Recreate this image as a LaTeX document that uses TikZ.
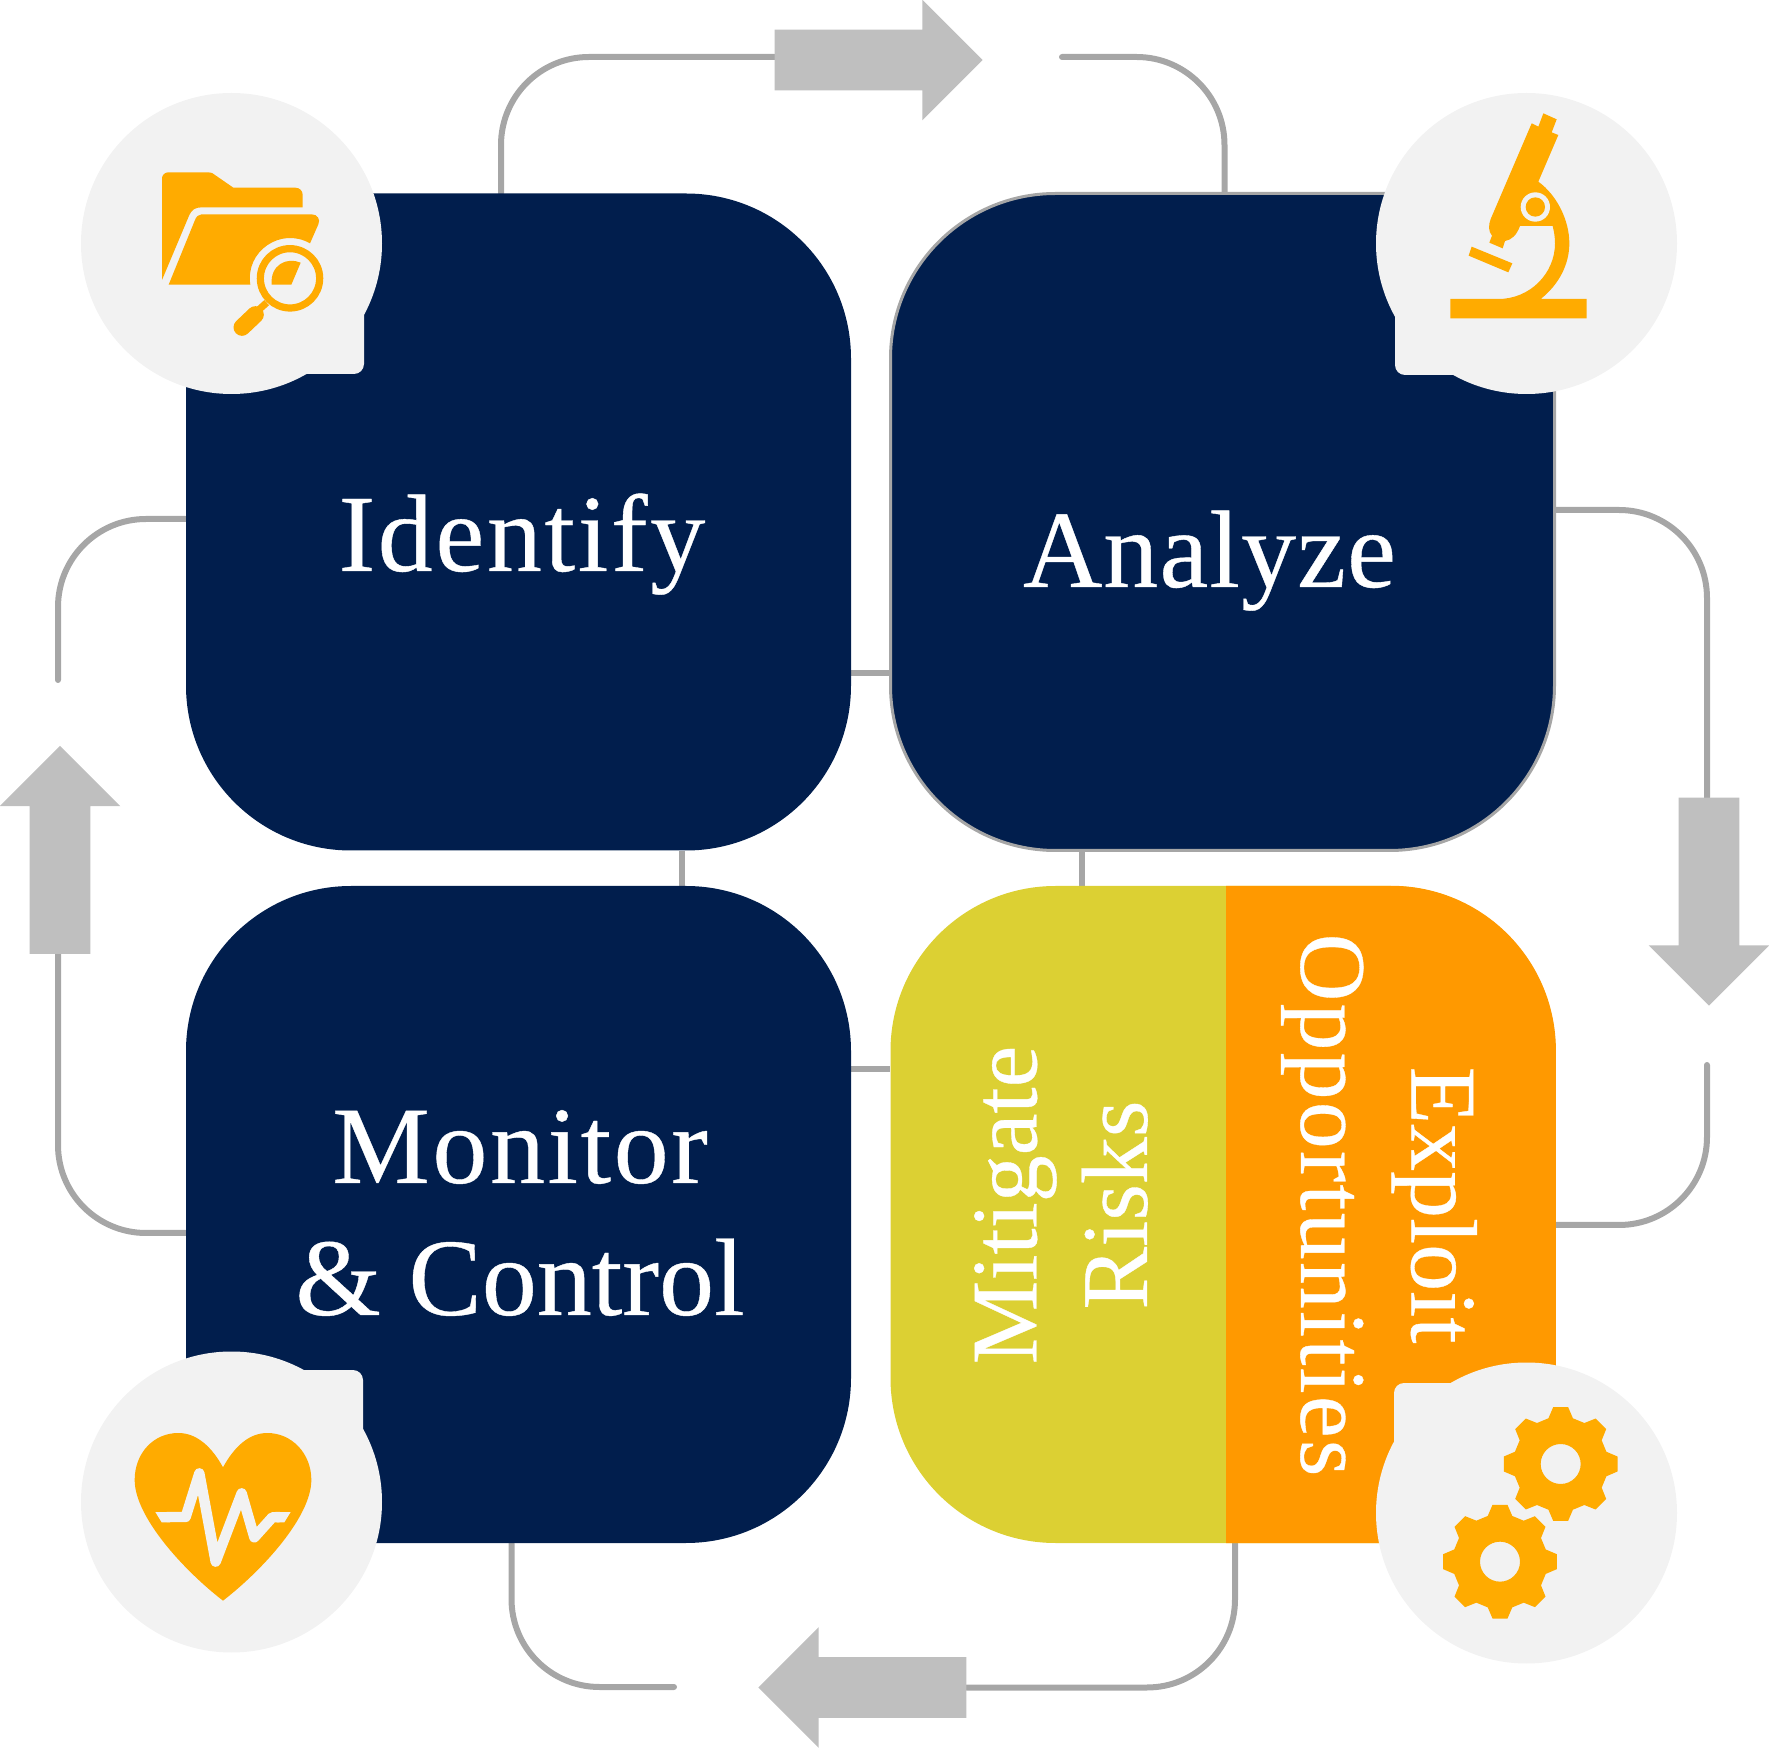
\documentclass[tikz,border=0pt]{standalone}
\usepackage{fontspec}
\setmainfont[FakeBold=0.35]{Liberation Serif}
\usetikzlibrary{shapes.arrows,backgrounds}
\definecolor{navy}{RGB}{1,30,77}
\definecolor{wire}{RGB}{166,166,166}
\definecolor{arrowgrey}{RGB}{191,191,191}
\definecolor{mustard}{RGB}{220,208,51}
\definecolor{tangerine}{RGB}{255,153,0}
\definecolor{amber}{RGB}{255,171,0}
\definecolor{badgegrey}{RGB}{242,242,242}
\tikzset{
  panel/.style={fill=navy,minimum width=332.5pt,minimum height=328.5pt,rounded corners=82.5pt,inner sep=0pt},
  link/.style={draw=wire,line width=3pt,line cap=round,rounded corners=44pt},
  stub/.style={draw=wire,line width=3pt},
  flowarrow/.style={single arrow,fill=arrowgrey,minimum height=104pt,minimum width=60pt,
    single arrow head extend=15pt,single arrow tip angle=90,inner sep=15pt,outer sep=0pt},
  badge/.style={circle,fill=badgegrey,minimum size=150.5pt,inner sep=0pt},
  bigword/.style={text=white,font=\fontsize{55}{66}\selectfont,align=center},
  sideword/.style={text=white,font=\fontsize{47}{55.25}\selectfont,align=center},
  iconunits/.style={x=0.16667pt,y=-0.16667pt}
}
\begin{document}
\begin{tikzpicture}[x=0.5pt,y=-0.5pt]
  \useasboundingbox (0,0) rectangle (1769,1748);
  % panels
  \node[panel] (identify) at (518.5,522) {};
  \node[panel,draw=wire,line width=1.5pt,minimum width=332pt] (analyze) at (1222.5,522) {};
  \node[panel] (monitor) at (518.5,1214.5) {};
  \node[panel,fill=mustard] (response) at (1223,1214.5) {};
  \fill[tangerine,rounded corners=82.5pt] (1226,886) -- (response.north east) -- (response.south east) -- (1226,1543);
  % block arrows
  \foreach \n/\x/\y/\r in {arrowtop/863.5/60/0,arrowright/1709/886.5/270,arrowbottom/877.5/1687.5/180,arrowleft/60/865/90}{
    \node[flowarrow,shape border rotate=\r] (\n) at (\x,\y) {};
  }
  % loose ends
  \coordinate (topgap) at (1062,57);
  \coordinate (rightgap) at (1707,1065);
  \coordinate (bottomgap) at (674,1687);
  \coordinate (leftgap) at (58,680);
  \begin{scope}[on background layer]
    \draw[link] ([xshift=-8.75pt]identify.north) |- ([yshift=1.5pt]arrowtop.tail);
    \draw[link] (topgap) -| ([xshift=1pt]analyze.north);
    \draw[link] ([yshift=6pt]analyze.east) -| ([xshift=-1pt]arrowright.tail);
    \draw[link] (rightgap) |- ([yshift=-5.25pt]response.east);
    \draw[link] (arrowbottom.tail) -| ([xshift=6pt]response.south);
    \draw[link] ([xshift=-3.5pt]monitor.south) |- (bottomgap);
    \draw[link] ([yshift=-9.25pt]monitor.west) -| ([xshift=-1pt]arrowleft.tail);
    \draw[link] ([yshift=1.5pt]identify.west) -| (leftgap);
    \draw[stub] ([yshift=-75.5pt]identify.east) -- ([yshift=-75.5pt]analyze.west);
    \draw[stub] ([xshift=81.5pt]identify.south) -- ([xshift=81.5pt]monitor.north);
    \draw[stub] ([xshift=-70.25pt]analyze.south) -- ([xshift=-70.5pt]response.north);
    \draw[stub] ([yshift=72.5pt]monitor.east) -- ([yshift=72.5pt]response.west);
  \end{scope}
  % badges
  \foreach \n/\x/\y/\cx/\cy in {badgefolder/231.5/243.5/364/374,badgescope/1526.5/243.5/1395/375,badgeheart/231.5/1502/363/1370,badgegears/1526.5/1513/1394/1383}{
    \node[badge] (\n) at (\x,\y) {};
    \fill[badgegrey,rounded corners=5pt] (\n.center) rectangle (\cx,\cy);
  }
  % folder
  \begin{scope}[shift={(70,80)},iconunits]
    \fill[amber] (276,600) -- (276,295) .. controls (276,285) and (285,277) .. (295,277) -- (415,277)
      .. controls (425,277) and (428,280) .. (432,283) -- (490,323) -- (675,323)
      .. controls (690,323) and (698,333) .. (698,345) -- (698,382) -- (395,382)
      .. controls (375,382) and (365,390) .. (358,405) -- cycle;
    \fill[amber] (296,614) -- (375,420) .. controls (379,410) and (385,403) .. (395,403) -- (725,403)
      .. controls (742,403) and (752,418) .. (745,433) -- (720,490)
      .. controls (632,440) and (525,514) .. (541,614) -- cycle;
    \draw[amber,line width=3.6pt] (660,595) circle [radius=89];
    \fill[amber] (605,614) -- (664,614) -- (692,548) .. controls (650,530) and (600,555) .. (605,614) -- cycle;
    \draw[amber,line width=8.5pt,line cap=round] (516,742) -- (556,704);
    \draw[amber,line width=3.5pt] (560,695) -- (590,668);
  \end{scope}
  % microscope
  \begin{scope}[shift={(1360,80)},iconunits]
    \fill[amber] (550,100) -- (590,118) -- (575,157) -- (595,165) -- (535,305)
      .. controls (590,345) and (628,420) .. (628,490) .. controls (628,555) and (595,615) .. (542,657)
      -- (680,657) -- (680,715) -- (271,715) -- (271,657) -- (415,657)
      .. controls (510,657) and (585,580) .. (585,490) .. controls (585,470) and (582,455) .. (578,438)
      -- (480,438) .. controls (470,465) and (455,480) .. (435,483) -- (428,505) -- (388,488) -- (396,467)
      .. controls (385,455) and (385,435) .. (392,417) -- (515,130) -- (535,140) -- cycle;
    \fill[badgegrey] (526,381) circle [radius=44];
    \fill[amber] (526,381) circle [radius=29];
    \fill[amber] (335,500) -- (457,550) -- (445,577) -- (326,527) -- cycle;
  \end{scope}
  % heart
  \begin{scope}[shift={(70,1340)},iconunits]
    \fill[amber] (459,382) .. controls (425,320) and (380,279) .. (325,279)
      .. controls (250,279) and (194,340) .. (194,420) .. controls (194,530) and (340,690) .. (459,782)
      .. controls (578,690) and (724,530) .. (724,420) .. controls (724,340) and (665,279) .. (592,279)
      .. controls (537,279) and (493,320) .. (459,382) -- cycle;
    \draw[badgegrey,line width=5.2pt,line join=round] (290,531) -- (347,531) -- (388,400) -- (437,665)
      -- (515,460) -- (553,592) -- (607,532) -- (630,531);
    \fill[badgegrey] (256,516) -- (300,516) -- (300,547) -- (275,547) -- cycle;
    \fill[badgegrey] (662,516) -- (620,516) -- (620,547) -- (643,547) -- cycle;
  \end{scope}
  % gears
  \foreach \cx/\cy in {602/342,420/635}{
    \begin{scope}[shift={(1360,1350)},iconunits,shift={(\cx,\cy)}]
      \fill[amber,even odd rule] (-15:142) \foreach \a in {0,45,...,315}{
          -- (\a-15:142) -- (\a-7.5:172) -- (\a+7.5:172) -- (\a+15:142)
        } -- cycle (0,0) circle [radius=60];
    \end{scope}
  }
  % words
  \node[bigword,anchor=base] (identifyword) at (522,571) {\addfontfeature{LetterSpace=2.4}Identify};
  \node[bigword,anchor=base] (analyzeword) at (1209.5,587) {\addfontfeature{LetterSpace=1}Analyze};
  \node[bigword,anchor=center] (monitorword) at (520,1213) {{\addfontfeature{LetterSpace=2.3}Monitor}\\\& Control};
  \node[sideword,rotate=90,anchor=center] (mitigateword) at (1061,1205) {Mitigate\\Risks};
  \node[sideword,rotate=-90,anchor=center] (exploitword) at (1379,1205) {Exploit\\{\addfontfeature{LetterSpace=2.3}Opportunities}};
\end{tikzpicture}
\end{document}
